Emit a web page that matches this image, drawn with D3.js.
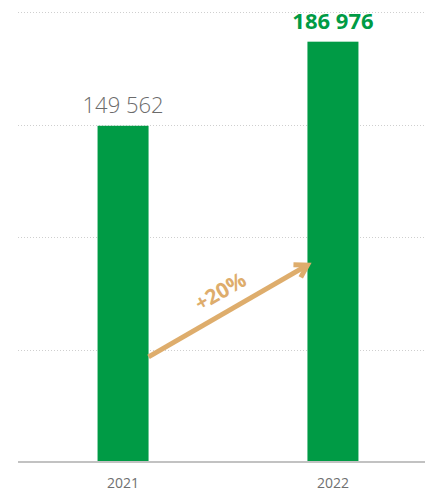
<!DOCTYPE html>
<html>
<head>
<meta charset="utf-8">
<script src="https://cdn.jsdelivr.net/npm/d3@7"></script>
<style>
  body { margin: 0; background: #fff; }
  svg { display: block; font-family: "Open Sans", sans-serif; }
</style>
</head>
<body>
<div id="chart"></div>
<script>
// data
var years = ["2021", "2022"];
var values = [149562, 186976];
var labels = ["149 562", "186 976"];
var gridTicks = [50000, 100000, 150000, 200000];
var growthLabel = "+20%";
// arrow start / end, in value units
var arrowFrom = 46800, arrowTo = 87600;

var width = 425, height = 492;
var margin = {top: 12, right: 0, bottom: 30, left: 18};

var svg = d3.select("#chart").append("svg")
    .attr("width", width)
    .attr("height", height);

var x = d3.scaleBand()
    .domain(years)
    .range([margin.left, 438])
    .paddingInner(0.757)
    .paddingOuter(0.379);

var y = d3.scaleLinear()
    .domain([0, 200000])
    .range([462, 12.4]);

// grid lines
svg.append("g")
    .selectAll("line")
    .data(gridTicks)
    .enter().append("line")
    .attr("x1", margin.left)
    .attr("x2", width)
    .attr("y1", function(d) { return Math.round(y(d)) + 0.5; })
    .attr("y2", function(d) { return Math.round(y(d)) + 0.5; })
    .style("stroke", "#cfcfcf")
    .style("stroke-width", 1)
    .style("stroke-dasharray", "1,2");

// bars
svg.selectAll(".bar")
    .data(values)
    .enter().append("rect")
    .attr("class", "bar")
    .attr("x", function(d, i) { return x(years[i]); })
    .attr("width", x.bandwidth())
    .attr("y", function(d) { return y(d); })
    .attr("height", function(d) { return y(0) - y(d); })
    .style("fill", "#009b45");

// baseline
svg.append("line")
    .attr("x1", margin.left)
    .attr("x2", width)
    .attr("y1", y(0))
    .attr("y2", y(0))
    .style("stroke", "#c2c2c2")
    .style("stroke-width", 2);

// x axis labels
var xAxis = d3.axisBottom(x).tickSize(0).tickPadding(0);
var gx = svg.append("g")
    .attr("transform", "translate(0," + (y(0) + 16) + ")")
    .call(xAxis);
gx.select(".domain").remove();
gx.selectAll("text")
    .attr("dy", "0.71em")
    .style("font-family", "Open Sans, sans-serif")
    .style("font-size", "14px")
    .style("fill", "#707070");

// value labels
svg.selectAll(".val")
    .data(values)
    .enter().append("text")
    .attr("class", "val")
    .attr("x", function(d, i) { return x(years[i]) + x.bandwidth() / 2; })
    .attr("y", function(d) { return y(d) - 13; })
    .attr("text-anchor", "middle")
    .style("font-size", "22px")
    .style("font-weight", function(d, i) { return i == 1 ? 700 : 300; })
    .style("fill", function(d, i) { return i == 1 ? "#009b45" : "#6b6b6b"; })
    .text(function(d, i) { return labels[i]; });

// growth arrow
var ax1 = x(years[0]) + x.bandwidth(), ay1 = y(arrowFrom);
var ax2 = x(years[1]), ay2 = y(arrowTo);
var ang = Math.atan2(ay2 - ay1, ax2 - ax1);
var arrowColor = "#dead6c";

svg.append("line")
    .attr("x1", ax1).attr("y1", ay1)
    .attr("x2", ax2 - 2 * Math.cos(ang)).attr("y2", ay2 - 2 * Math.sin(ang))
    .style("stroke", arrowColor)
    .style("stroke-width", 5);

var head = 14, spread = 0.55;
svg.append("path")
    .attr("d", "M" + (ax2 - head * Math.cos(ang - spread)) + "," + (ay2 - head * Math.sin(ang - spread)) +
        "L" + ax2 + "," + ay2 +
        "L" + (ax2 - head * Math.cos(ang + spread)) + "," + (ay2 - head * Math.sin(ang + spread)))
    .style("fill", "none")
    .style("stroke", arrowColor)
    .style("stroke-width", 5)
    .style("stroke-linejoin", "miter")
    .style("stroke-linecap", "butt");

var mx = (ax1 + ax2) / 2 - 4, my = (ay1 + ay2) / 2 - 13;
svg.append("text")
    .attr("transform", "translate(" + mx + "," + my + ") rotate(" + (ang * 180 / Math.PI) + ")")
    .attr("text-anchor", "middle")
    .style("font-size", "21px")
    .style("font-weight", 700)
    .style("fill", arrowColor)
    .text(growthLabel);
</script>
</body>
</html>
